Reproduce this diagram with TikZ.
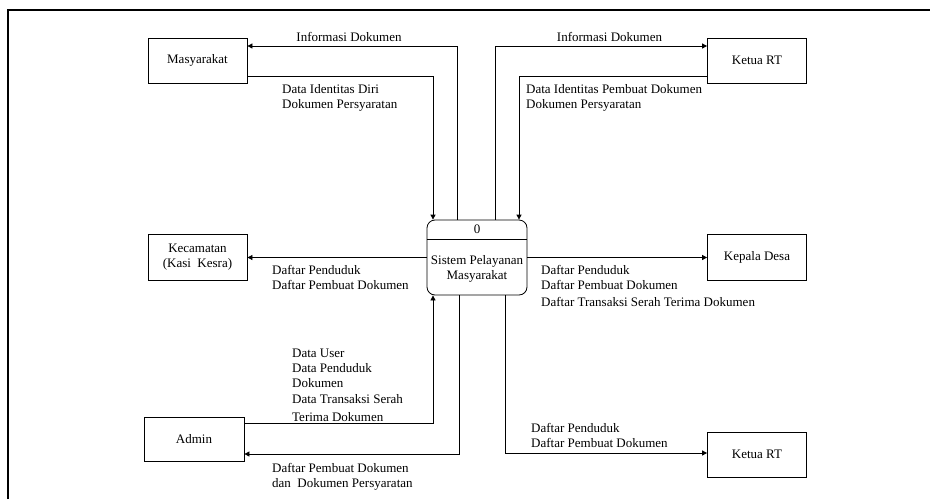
\documentclass[tikz,border=0pt]{standalone}
\usepackage{fontspec}
\setmainfont{Liberation Serif}
\usetikzlibrary{arrows.meta}

\begin{document}
\begin{tikzpicture}[x=1pt,y=-1pt,
        font=\fontsize{13}{15}\selectfont,
        entity/.style={draw,line width=0.8pt,minimum width=99pt,minimum height=45pt,inner sep=0pt,align=center},
        proses/.style={draw,line width=0.8pt,rounded corners=8pt,minimum width=100pt,minimum height=75pt},
        flow/.style={line width=0.8pt,-{Triangle[length=5pt,width=5pt]}},
        lbl/.style={anchor=base west,inner sep=0pt,align=left}]
        \useasboundingbox (0,0) rectangle (930,499);
        \coordinate (fa) at (8,499);
        \coordinate (fb) at (8,10);
        \coordinate (fc) at (930,10);
        \draw[line width=1.8pt] (fa) -- (fb) -- (fc);
        \node[entity] (masy) at (197.5,60.5) {Masyarakat};
        \node[entity] (rtA) at (757,60.5) {Ketua RT};
        \node[entity,minimum height=46pt] (kec) at (197.5,257) {Kecamatan\\(Kasi\ \ Kesra)};
        \node[entity,minimum height=46pt] (kades) at (757,257) {Kepala Desa};
        \node[entity,minimum width=100pt,minimum height=44pt] (admin) at (194,439) {Admin};
        \node[entity] (rtB) at (757,454.5) {Ketua RT};
        \node[proses] (proc) at (477,257.5) {};
        \node (nol) at (477,229.5) {0};
        \node[align=center] (nama) at (477,268.5) {Sistem Pelayanan\\Masyarakat};
        \coordinate (sekat) at (477,239);
        \draw[line width=0.8pt] (proc.west |- sekat) -- (proc.east |- sekat);
        \draw[flow] ([xshift=-20pt]proc.north) |- ([yshift=14.5pt]masy.east);
        \draw[flow] ([yshift=-15.5pt]masy.east) -| ([xshift=-44pt]proc.north);
        \draw[flow] ([xshift=18pt]proc.north) |- ([yshift=14.5pt]rtA.west);
        \draw[flow] ([yshift=-15.5pt]rtA.west) -| ([xshift=42pt]proc.north);
        \draw[flow] (proc.west) -- (proc.west -| kec.east);
        \draw[flow] (proc.east) -- (proc.east -| kades.west);
        \draw[flow] ([yshift=16pt]admin.east) -| ([xshift=-44pt]proc.south);
        \draw[flow] ([xshift=-18pt]proc.south) |- ([yshift=-15pt]admin.east);
        \draw[flow] ([xshift=28pt]proc.south) |- ([yshift=1.5pt]rtB.west);
        \node[anchor=base] (lInfoA) at (349,41) {Informasi Dokumen};
        \node[anchor=base] (lInfoB) at (609.5,41) {Informasi Dokumen};
        \node[lbl] (lMasy) at (282,108) {Data Identitas Diri\\Dokumen Persyaratan};
        \node[lbl] (lRtA) at (526,108) {Data Identitas Pembuat Dokumen\\Dokumen Persyaratan};
        \node[lbl] (lKec) at (272,289) {Daftar Penduduk\\Daftar Pembuat Dokumen};
        \node[lbl] (lKades) at (541,306) {Daftar Penduduk\\Daftar Pembuat Dokumen\\[2pt]Daftar Transaksi Serah Terima Dokumen};
        \node[lbl] (lAdmA) at (292,421) {Data User\\Data Penduduk\\Dokumen\\[1pt]Data Transaksi Serah\\[3pt]Terima Dokumen};
        \node[lbl] (lAdmB) at (272,487) {Daftar Pembuat Dokumen\\dan\ \ Dokumen Persyaratan};
        \node[lbl] (lRtB) at (531,447) {Daftar Penduduk\\Daftar Pembuat Dokumen};
\end{tikzpicture}
\end{document}
